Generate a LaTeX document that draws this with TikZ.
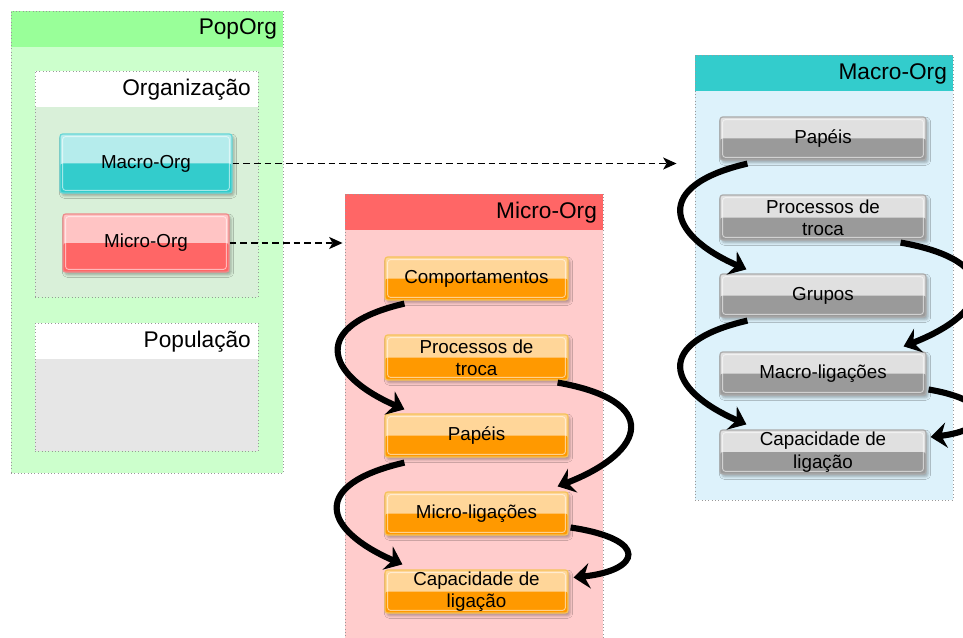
\documentclass[tikz,border=0pt]{standalone}
\usepackage{fontspec}
\setmainfont{Liberation Sans}
\usetikzlibrary{arrows.meta,calc,fit,shadows.blur}

\definecolor{popHead}{HTML}{99FF99}
\definecolor{popBody}{HTML}{CCFFCC}
\definecolor{orgBody}{HTML}{D9F0D9}
\definecolor{populBody}{HTML}{E6E6E6}
\definecolor{microHead}{HTML}{FF6666}
\definecolor{microBody}{HTML}{FFCCCC}
\definecolor{macroHead}{HTML}{33CCCC}
\definecolor{macroBody}{HTML}{DDF2FB}
\definecolor{orangeTop}{HTML}{FFD699}
\definecolor{orangeBot}{HTML}{FF9900}
\definecolor{orangeLine}{HTML}{F5C25A}
\definecolor{grayTop}{HTML}{E0E0E0}
\definecolor{grayBot}{HTML}{9A9A9A}
\definecolor{grayLine}{HTML}{AAAAAA}
\definecolor{cyanTop}{HTML}{B5ECEC}
\definecolor{cyanLine}{HTML}{66D6D6}
\definecolor{pinkTop}{HTML}{FFC4C4}
\definecolor{pinkLine}{HTML}{EE8A8A}

\tikzset{
  panel/.style={draw=gray!80, line width=0.7pt, dash pattern=on 0.7pt off 1.8pt,
    inner sep=0pt, fill=#1},
  header/.style={path picture={\fill[#1] (path picture bounding box.north west)
    rectangle ([yshift=-27pt]path picture bounding box.north east);}},
  title/.style={font=\fontsize{17}{20}\selectfont, anchor=east, inner sep=1pt},
  button/.style n args={3}{draw=#3, line width=0.9pt, rounded corners=2pt,
    inner sep=0pt, fill=#1, align=center,
    font=\fontsize{14.1}{16.8}\selectfont,
    blur shadow={shadow xshift=1.5pt, shadow yshift=-2pt, shadow opacity=30,
      shadow blur radius=2pt},
    path picture={
      \fill[#2] (path picture bounding box.west) rectangle
        (path picture bounding box.south east);
      \draw[white, opacity=0.55, line width=0.7pt]
        ([shift={(2pt,-2pt)}]path picture bounding box.north west) rectangle
        ([shift={(-2pt,2pt)}]path picture bounding box.south east);}},
  orangebtn/.style={button={orangeTop}{orangeBot}{orangeLine},
    minimum width=137.25pt, minimum height=#1},
  graybtn/.style={button={grayTop}{grayBot}{grayLine},
    minimum width=154.5pt, minimum height=#1},
  flow/.style={line width=4.6pt, -{Stealth[length=12pt,width=19pt,inset=4pt]}},
  link/.style={line width=1pt, dash pattern=on 5pt off 3pt,
    -{Stealth[length=10pt,width=9pt,inset=2.5pt]}}
}

\begin{document}
\begin{tikzpicture}[x=0.75pt, y=-0.75pt]
\useasboundingbox (0,0) rectangle (963,638);
\clip (0,0) rectangle (963,638);

% PopOrg panel with its two inner panels
\node[panel=popBody, header=popHead, fit={(11,11) (283,473)}] (popBox) {};
\node[title] (popTitle) at ($(popBox.north east)+(-5,18)$) {PopOrg};

\node[panel=orgBody, header=white, fit={(35,71) (258,297)}] (orgBox) {};
\node[title] (orgTitle) at ($(orgBox.north east)+(-6,19)$) {Organização};

\node[panel=populBody, header=white, fit={(35,323) (258,451)}] (populBox) {};
\node[title] (populTitle) at ($(populBox.north east)+(-6,19)$) {População};

\node[button={cyanTop}{macroHead}{cyanLine}, minimum width=129pt,
  minimum height=44.25pt] (macroBtn) at (146,163.5) {Macro-Org};
\node[button={pinkTop}{microHead}{pinkLine}, minimum width=124.5pt,
  minimum height=43.5pt] (microBtn) at (146,243) {Micro-Org};

% Micro-Org panel
\node[panel=microBody, header=microHead, fit={(345,194) (603,660)}] (microBox) {};
\node[title] (microTitle) at ($(microBox.north east)+(-5,19)$) {Micro-Org};

\node[orangebtn=32.25pt] (mComp) at (476.5,278.5) {Comportamentos};
\node[orangebtn=33.75pt] (mProc) at (476.5,357.5) {Processos de\\troca};
\node[orangebtn=32.25pt] (mPap)  at (476.5,435.5) {Papéis};
\node[orangebtn=32.25pt] (mLig)  at (476.5,513.5) {Micro-ligações};
\node[orangebtn=32.25pt] (mCap)  at (476.5,591.5) {Capacidade de\\ligação};

% Macro-Org panel
\node[panel=macroBody, header=macroHead, fit={(695,55) (953,500)}] (macroBox) {};
\node[title] (macroTitle) at ($(macroBox.north east)+(-5,19)$) {Macro-Org};

\node[graybtn=32.25pt] (aPap)  at (823,138.5) {Papéis};
\node[graybtn=33.75pt] (aProc) at (823,217.5) {Processos de\\troca};
\node[graybtn=32.25pt] (aGrp)  at (823,295.5) {Grupos};
\node[graybtn=32.25pt] (aLig)  at (823,373.5) {Macro-ligações};
\node[graybtn=33pt]    (aCap)  at (823,452)   {Capacidade de\\ligação};

% dashed links from the organisation buttons to their panels
\coordinate (macroIn) at ($(macroBox.west |- macroBtn.east)+(-18,0)$);
\coordinate (microIn) at ($(microBox.west |- microBtn.east)+(-2,0)$);
\draw[link] (macroBtn.east) -- (macroIn);
\draw[link] (microBtn.east) -- (microIn);

% flow arrows, Micro-Org
\draw[flow] ($(mComp.south west)+(20,3)$) .. controls +(-95,22) and +(-80,-35) .. ($(mPap.north west)+(20,-4)$);
\draw[flow] ($(mProc.south east)+(-11,2)$) .. controls +(103,18) and +(90,-35) .. ($(mLig.north east)+(-11,-5)$);
\draw[flow] ($(mPap.south west)+(20,5)$) .. controls +(-95,22) and +(-80,-35) .. ($(mCap.north west)+(18,-5)$);
\draw[flow] ($(mLig.east)+(2,14)$) .. controls +(80,12) and +(67,-7) .. ($(mCap.east)+(5,-14)$);

% flow arrows, Macro-Org
\draw[flow] ($(aPap.south west)+(28,3)$) .. controls +(-95,22) and +(-80,-35) .. ($(aGrp.north west)+(27,-4)$);
\draw[flow] ($(aProc.south east)+(-26,2)$) .. controls +(103,18) and +(90,-35) .. ($(aLig.north east)+(-23,-5)$);
\draw[flow] ($(aGrp.south west)+(28,3)$) .. controls +(-95,22) and +(-80,-35) .. ($(aCap.north west)+(27,-5)$);
\draw[flow] ($(aLig.east)+(2,16)$) .. controls +(70,12) and +(60,-7) .. ($(aCap.east)+(4,-15)$);
\end{tikzpicture}
\end{document}
